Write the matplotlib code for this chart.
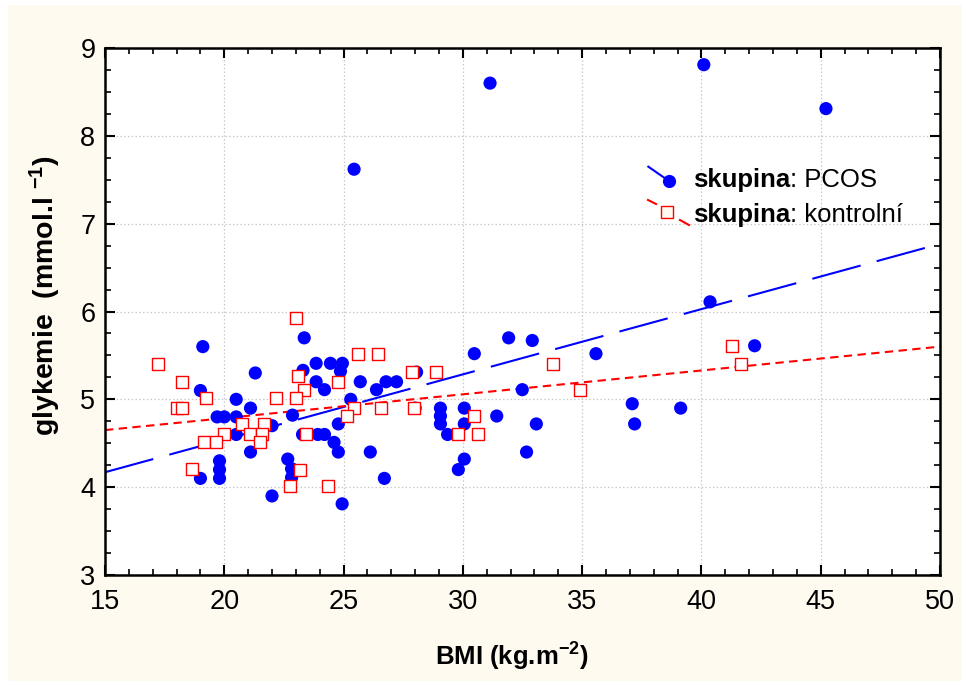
import matplotlib
matplotlib.use("Agg")
import matplotlib.pyplot as plt
import numpy as np
from matplotlib.patches import Rectangle
from matplotlib.lines import Line2D

plt.rcParams['font.family'] = ['Liberation Sans', 'DejaVu Sans']
plt.rcParams['mathtext.fontset'] = 'custom'
plt.rcParams['mathtext.rm'] = 'Liberation Sans'
plt.rcParams['mathtext.bf'] = 'Liberation Sans:bold'

# ---- data ----
pcos_bmi = [19.1, 21.3, 19.0, 20.5, 21.1, 19.7, 20.0, 20.5, 20.5, 21.1, 19.8, 19.8, 19.0, 19.8,
            22.0, 22.0, 23.35, 23.3, 23.85, 24.45, 24.95, 24.87, 23.85, 24.2, 25.7, 25.3,
            22.86, 24.78, 23.28, 23.92, 24.2, 24.6, 24.78, 22.66, 22.82, 22.82, 24.94,
            26.78, 27.22, 26.38, 28.06, 29.06, 29.06, 29.06, 29.36, 30.06, 30.06, 28.0,
            26.12, 26.71, 30.06, 29.81, 30.48, 31.92, 32.91, 35.58, 32.49, 31.42, 33.08,
            32.67, 40.36, 42.23, 37.1, 37.2, 39.13, 31.14, 40.1, 45.22, 25.44]
pcos_glu = [5.6, 5.3, 5.1, 5.0, 4.9, 4.8, 4.8, 4.8, 4.6, 4.4, 4.3, 4.2, 4.1, 4.1,
            4.7, 3.9, 5.7, 5.33, 5.41, 5.41, 5.41, 5.32, 5.2, 5.11, 5.2, 5.0,
            4.82, 4.72, 4.6, 4.6, 4.6, 4.51, 4.4, 4.32, 4.21, 4.11, 3.81,
            5.2, 5.2, 5.11, 5.31, 4.9, 4.81, 4.72, 4.6, 4.9, 4.72, 4.9,
            4.4, 4.1, 4.32, 4.2, 5.52, 5.7, 5.67, 5.52, 5.11, 4.81, 4.72,
            4.4, 6.11, 5.61, 4.95, 4.72, 4.9, 8.6, 8.81, 8.31, 7.62]

ctrl_bmi = [17.23, 18.24, 19.25, 18.0, 18.24, 20.75, 21.68, 20.0, 21.09, 21.6, 19.16, 19.66,
            21.5, 18.66, 22.17, 23.02, 25.62, 23.1, 24.78, 23.35, 23.02, 25.43, 25.13,
            23.42, 23.18, 22.76, 24.36, 26.45, 27.88, 28.89, 26.55, 27.96, 29.81, 33.76,
            34.93, 30.48, 30.65, 41.29, 41.64]
ctrl_glu = [5.4, 5.2, 5.01, 4.9, 4.9, 4.72, 4.72, 4.6, 4.6, 4.6, 4.51, 4.51,
            4.51, 4.21, 5.01, 5.93, 5.52, 5.27, 5.2, 5.11, 5.01, 4.9, 4.81,
            4.6, 4.2, 4.01, 4.01, 5.52, 5.31, 5.31, 4.9, 4.9, 4.6, 5.4,
            5.11, 4.81, 4.6, 5.61, 5.4]

# regression lines: glycemia at BMI 15 and BMI 50
fit_x = [15, 50]
pcos_fit = [4.17, 6.77]
ctrl_fit = [4.65, 5.60]

x_ticks = [15, 20, 25, 30, 35, 40, 45, 50]
y_ticks = [3, 4, 5, 6, 7, 8, 9]

cream = '#FFFAF0'
blue = '#0000FF'
red = '#FF0000'

fig = plt.figure(figsize=(9.67, 6.86), dpi=100)
fig.patch.set_facecolor('white')
fig.patches.append(Rectangle((8/967, 5/686), 954/967, 676/686, transform=fig.transFigure,
                             facecolor=cream, edgecolor='none', zorder=-10))

ax = fig.add_axes([105/967, 1 - 575/686, 835/967, 527/686])
ax.set_facecolor('white')

ax.set_xlim(15, 50)
ax.set_ylim(3, 9)
ax.set_xticks(x_ticks)
ax.set_yticks(y_ticks)
ax.set_xticks(np.arange(15, 51, 1), minor=True)
ax.set_yticks(np.arange(3, 9.01, 0.25), minor=True)
ax.grid(True, which='major', linestyle=(0, (1.2, 1.8)), color='#c8c8c8', linewidth=0.9)
ax.set_axisbelow(True)

ax.tick_params(which='both', direction='in', top=True, right=True, labelsize=19.5, color='black')
ax.tick_params(axis='x', which='both', pad=10)
ax.tick_params(axis='y', which='both', pad=7)
ax.tick_params(which='major', length=7, width=1.5)
ax.tick_params(which='minor', length=4.5, width=1.2)
for s in ax.spines.values():
    s.set_linewidth(1.8)
    s.set_color('black')

# regression lines
ax.plot(fit_x, pcos_fit, color=blue, linewidth=1.5, dashes=(24, 8), zorder=2)
ax.plot(fit_x, ctrl_fit, color=red, linewidth=1.5, dashes=(4, 2.6), zorder=2)

# points
ax.scatter(pcos_bmi, pcos_glu, s=90, marker='o', color=blue, edgecolors='none', zorder=3)
ax.scatter(ctrl_bmi, ctrl_glu, s=72, marker='s', facecolors='white', edgecolors=red,
           linewidths=1.0, zorder=4)

ax.set_xlabel(r'BMI (kg.m$\mathbf{^{-2}}$)', fontsize=18.5, fontweight='bold', labelpad=19)
ax.set_ylabel(r'glykemie  (mmol.l $\mathbf{^{-1}}$)', fontsize=20.5, fontweight='bold', labelpad=12)
ax.xaxis.label.set_x(0.487)
ax.yaxis.label.set_y(0.53)

# custom legend
tr = ax.transAxes
ax.add_line(Line2D([0.6507, 0.6754], [0.7748, 0.7476], color=blue, lw=1.5, transform=tr, clip_on=False))
ax.add_line(Line2D([0.6754], [0.7476], marker='o', markersize=9.5, color=blue, markeredgewidth=0,
                   transform=tr, clip_on=False))
ax.add_line(Line2D([0.6503, 0.6599], [0.7116, 0.7040], color=red, lw=1.5, transform=tr, clip_on=False))
ax.add_line(Line2D([0.6886, 0.6994], [0.6736, 0.6641], color=red, lw=1.5, transform=tr, clip_on=False))
ax.add_line(Line2D([0.6731], [0.6888], marker='s', markersize=8.5, markerfacecolor=cream,
                   markeredgecolor=red, markeredgewidth=1.0, linestyle='none', transform=tr, clip_on=False))

t1 = ax.text(0.7042, 0.7362, 'skupina', transform=tr, fontsize=18.5, fontweight='bold', va='baseline')
ax.annotate(': PCOS', xy=(1, 0), xycoords=t1, va='bottom', fontsize=18.5)
t2 = ax.text(0.7042, 0.6698, 'skupina', transform=tr, fontsize=18.5, fontweight='bold', va='baseline')
ax.annotate(': kontrolní', xy=(1, 0), xycoords=t2, va='bottom', fontsize=18.5)

fig.savefig('out.png', dpi=100, facecolor=fig.get_facecolor())
